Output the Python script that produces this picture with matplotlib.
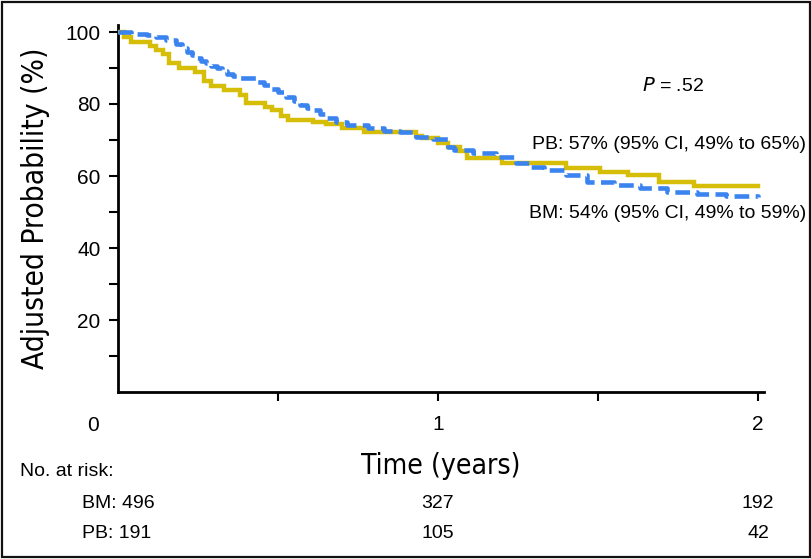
import matplotlib
matplotlib.use("Agg")
import matplotlib.pyplot as plt
from matplotlib import font_manager
from matplotlib.font_manager import FontProperties
from matplotlib.patches import Rectangle
import matplotlib.transforms as mtransforms

# ---------------- data ----------------
pb_time = [0, 0.02, 0.04, 0.10, 0.12, 0.14, 0.16, 0.19, 0.24, 0.27, 0.29, 0.33, 0.38, 0.40,
           0.46, 0.48, 0.51, 0.53, 0.61, 0.65, 0.70, 0.77, 0.93, 0.95, 1.00, 1.03, 1.07, 1.09,
           1.20, 1.40, 1.505, 1.595, 1.69, 1.80, 2.0]
pb_prob = [100, 98.6, 97.3, 96.2, 95.0, 93.8, 91.5, 90.0, 89.0, 86.5, 85.0, 84.0, 82.5, 80.2,
           79.2, 78.2, 76.6, 75.6, 75.0, 74.5, 73.4, 72.3, 71.2, 70.5, 69.3, 68.1, 67.0, 64.9,
           63.5, 62.1, 61.2, 60.3, 58.4, 57.3, 57.3]

bm_time = [0, 0.04, 0.09, 0.12, 0.15, 0.18, 0.20, 0.215, 0.23, 0.245, 0.26, 0.275, 0.29, 0.31,
           0.325, 0.34, 0.36, 0.38, 0.43, 0.455, 0.475, 0.50, 0.525, 0.55, 0.57, 0.59, 0.61,
           0.63, 0.65, 0.68, 0.715, 0.78, 0.83, 0.88, 0.93, 0.985, 1.03, 1.05, 1.11, 1.18,
           1.245, 1.29, 1.33, 1.40, 1.465, 1.55, 1.63, 1.715, 1.81, 1.90, 2.0]
bm_prob = [100, 99.5, 99.2, 98.7, 97.8, 96.8, 95.6, 94.5, 93.6, 92.7, 92.0, 91.3, 90.6, 89.9,
           89.1, 88.3, 87.7, 87.1, 86.2, 85.2, 84.3, 83.2, 82.0, 80.8, 79.7, 79.0, 78.3,
           77.1, 76.0, 75.1, 74.2, 73.2, 72.6, 72.1, 70.9, 70.2, 68.0, 67.2, 66.3, 65.4,
           63.5, 62.6, 61.7, 60.3, 58.4, 57.5, 56.6, 55.6, 55.0, 54.5, 54.1]

risk_times = [1, 2]
risk_bm = [327, 192]
risk_pb = [105, 42]
bm_start_label = "BM: 496"
pb_start_label = "PB: 191"

y_major = [20, 40, 60, 80, 100]
y_minor = [10, 30, 50, 70, 90]
x_major = [1, 2]
x_minor = [0.5, 1.5]

pb_note = "PB: 57% (95% CI, 49% to 65%)"
bm_note = "BM: 54% (95% CI, 49% to 59%)"

# ---------------- style ----------------
ttf = font_manager.fontManager.ttflist
names = {f.name for f in ttf}
small_font = "Liberation Sans" if "Liberation Sans" in names else "DejaVu Sans"

cond = [f for f in ttf
        if ("Narrow" in f.name or "Condensed" in f.name or f.stretch in ("condensed", "semi-condensed"))
        and f.style == "normal" and f.weight in (400, "normal", "regular")]
if cond:
    big_prop = FontProperties(fname=cond[0].fname)
    xl_size, yl_size = 20.3, 21.4
elif "Roboto" in names:
    big_prop = FontProperties(family="Roboto")
    xl_size, yl_size = 21, 21.5
else:
    big_prop = FontProperties(family="DejaVu Sans")
    xl_size, yl_size = 18.5, 19.5

plt.rcParams["font.family"] = [small_font, "DejaVu Sans"]

yellow = "#D6BD08"
blue = "#3B84F0"

fig = plt.figure(figsize=(8.12, 5.59), dpi=100)
ax = fig.add_axes([118 / 812, 167 / 559, 646.4 / 812, 367.2 / 559])

ax.plot(pb_time, pb_prob, drawstyle="steps-post", color=yellow, lw=3.2,
        solid_joinstyle="miter", zorder=3)
ax.plot(bm_time, bm_prob, drawstyle="steps-post", color=blue, lw=3.3,
        dashes=(3.2, 1.4), zorder=4)

ax.set_xlim(0, 2.02)
ax.set_ylim(0, 102)

for s in ["top", "right"]:
    ax.spines[s].set_visible(False)
for s in ["left", "bottom"]:
    ax.spines[s].set_linewidth(2.0)

ax.set_yticks(y_major)
ax.set_yticks(y_minor, minor=True)
ax.set_xticks(x_major)
ax.set_xticks(x_minor, minor=True)
ax.tick_params(axis="both", which="both", direction="out", length=6.5, width=1.5,
               labelsize=15, color="black")
ax.tick_params(axis="y", which="both", pad=6)
ax.tick_params(axis="x", which="both", pad=10)

xl = ax.set_xlabel("Time (years)", fontproperties=big_prop, va="baseline")
xl.set_fontsize(xl_size)
ax.xaxis.set_label_coords(0.5, (392 - 474) / 367.2)
yl = ax.set_ylabel("Adjusted Probability (%)", fontproperties=big_prop, va="center")
yl.set_fontsize(yl_size)
ax.yaxis.set_label_coords((36 - 118) / 646.4, 0.5)

# corner zero label
ax.annotate("0", xy=(0, 0), xycoords="data", xytext=(-25 * 0.72, -(431 - 392) * 0.72),
            textcoords="offset points", ha="center", va="baseline", fontsize=15,
            annotation_clip=False)

# annotations at right
ax.text(1.734, 83.6, r"$\it{P}$ = .52", ha="center", va="baseline", fontsize=14, clip_on=False)
ax.text(2.15, 67.5, pb_note, ha="right", va="baseline", fontsize=14, clip_on=False)
ax.text(2.15, 48.3, bm_note, ha="right", va="baseline", fontsize=14, clip_on=False)

# number at risk table
fig.text(20 / 812, 1 - 476 / 559, "No. at risk:", ha="left", va="baseline", fontsize=14)
fig.text(82 / 812, 1 - 508 / 559, bm_start_label, ha="left", va="baseline", fontsize=14)
fig.text(82 / 812, 1 - 538.5 / 559, pb_start_label, ha="left", va="baseline", fontsize=14)
blend = mtransforms.blended_transform_factory(ax.transData, fig.transFigure)
for t, b, p in zip(risk_times, risk_bm, risk_pb):
    ax.text(t, 1 - 508 / 559, str(b), transform=blend, ha="center", va="baseline",
            fontsize=14, clip_on=False)
    ax.text(t, 1 - 538.5 / 559, str(p), transform=blend, ha="center", va="baseline",
            fontsize=14, clip_on=False)

# figure frame
fig.patches.append(Rectangle((2 / 812, 2 / 559), 808 / 812, 555 / 559,
                             transform=fig.transFigure, fill=False, ec="#111111", lw=1.6))

fig.savefig("out.png", dpi=100)
